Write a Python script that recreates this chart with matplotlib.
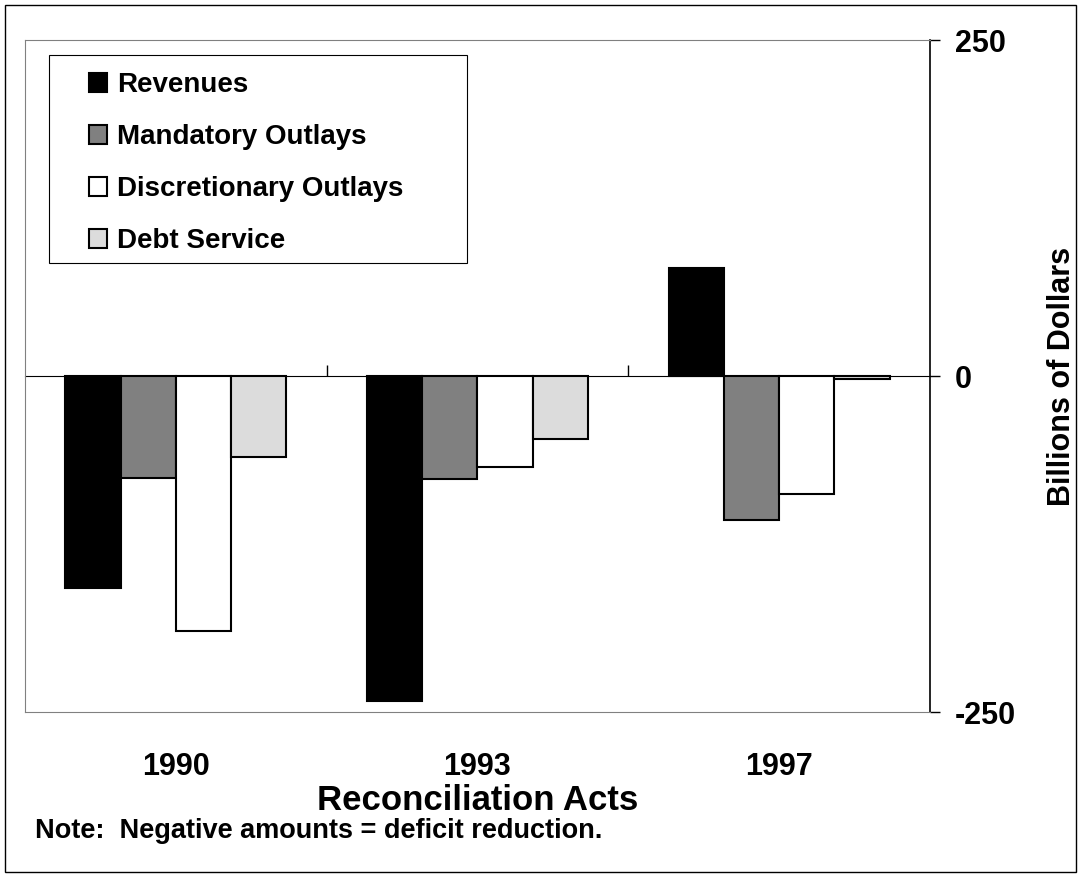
import numpy as np
import matplotlib.pyplot as plt
from matplotlib.patches import Rectangle

plt.rcParams['font.family'] = ['Liberation Sans', 'DejaVu Sans']
plt.rcParams['font.weight'] = 'bold'
plt.rcParams['axes.unicode_minus'] = False

acts = ['1990', '1993', '1997']
series = ['Revenues', 'Mandatory Outlays', 'Discretionary Outlays', 'Debt Service']
revenues = [-158, -242, 80]
mandatory = [-76, -77, -107]
discretionary = [-190, -68, -88]
debt_service = [-60, -47, -2]
values = [revenues, mandatory, discretionary, debt_service]
colors = ['#000000', '#808080', '#ffffff', '#dcdcdc']

fig = plt.figure(figsize=(10.81, 8.77), dpi=100)
ax = fig.add_axes([25 / 1081, 1 - 712 / 877, 905 / 1081, 672 / 877])

x = np.arange(len(acts))
w = 0.183
for i, (name, vals) in enumerate(zip(series, values)):
    ax.bar(x + (i - 1.5) * w, vals, w, color=colors[i], edgecolor='black',
           linewidth=1.5, label=name, zorder=3)

ax.set_xlim(-0.5, 2.5)
ax.set_ylim(-250, 250)

# right-hand value axis
ax.yaxis.tick_right()
ax.yaxis.set_label_position('right')
ax.set_yticks([-250, 0, 250])
ax.tick_params(axis='y', direction='out', length=7, width=1, pad=11, labelsize=22)
ax.set_ylabel('Billions of Dollars', fontsize=22, fontweight='bold', labelpad=22)

ax.set_xticks(x)
ax.set_xticklabels(acts)
ax.tick_params(axis='x', length=0, pad=29, labelsize=22)
ax.set_xlabel('Reconciliation Acts', fontsize=25, fontweight='bold', labelpad=1)

for s in ['left', 'top', 'bottom']:
    ax.spines[s].set_color('#808080')
ax.spines['right'].set_color('black')
ax.spines['right'].set_linewidth(1.2)

# zero line with separators between groups
zero = ax.secondary_xaxis(0.5)
zero.set_xticks([0.5, 1.5])
zero.set_xticklabels([])
zero.tick_params(direction='out', length=8, width=1)
zero.spines['bottom'].set_linewidth(1.2)

# legend box frame
ax.add_artist(Rectangle((49 / 1081, 1 - 263 / 877), 418 / 1081, 208 / 877,
                        transform=fig.transFigure, facecolor='white',
                        edgecolor='black', linewidth=0.8, zorder=4, clip_on=False))
leg = ax.legend(loc='upper left', bbox_to_anchor=(89 / 1081, 1 - 72 / 877),
                bbox_transform=fig.transFigure, fontsize=20, frameon=False,
                handlelength=0.65, handleheight=0.65, handletextpad=0.35,
                labelspacing=0.94, borderpad=0, borderaxespad=0)
leg.set_zorder(5)

fig.text(35 / 1081, 1 - 831 / 877, 'Note:  Negative amounts = deficit reduction.',
         fontsize=19.5, fontweight='bold', va='center', ha='left')

fig.patches.append(Rectangle((5 / 1081, 5 / 877), 1 - 10 / 1081, 1 - 10 / 877,
                             transform=fig.transFigure, fill=False,
                             edgecolor='black', linewidth=1))

fig.savefig('out.png', dpi=100)
